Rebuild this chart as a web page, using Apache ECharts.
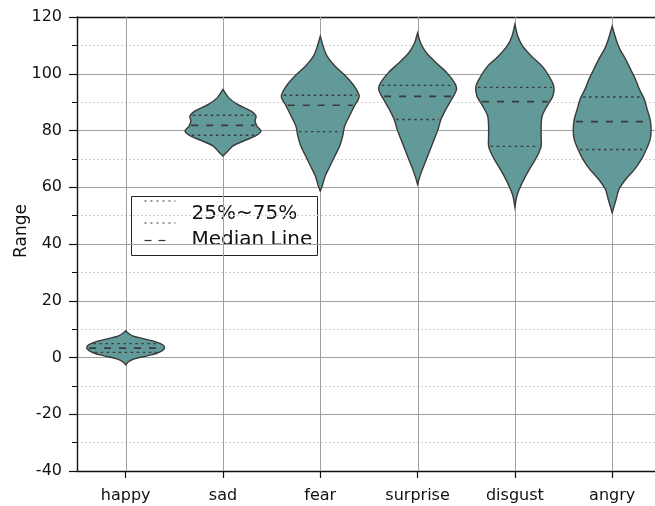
<!DOCTYPE html>
<html>
<head>
    <meta charset="utf-8" />
    <script src="https://cdn.jsdelivr.net/npm/echarts@6/dist/echarts.min.js"></script>
    <style>
        body { margin: 0; background: #fff; }
        #main { width: 655px; height: 506px; }
    </style>
</head>
<body>
    <div id="main"></div>
    <script type="text/javascript">
        // categories and y ticks
        var categories = ['happy', 'sad', 'fear', 'surprise', 'disgust', 'angry'];
        var catIndex = [0, 1, 2, 3, 4, 5];
        var yTicks = [-40, -20, 0, 20, 40, 60, 80, 100, 120];

        // violin outlines: [value, half width in category units]
        var happyShape = [[-2.6, 0], [-1.5, .03], [-0.5, .09], [0.5, .21], [1.5, .32], [2.5, .38], [3.5, .40], [4.5, .38], [5.5, .31], [6.5, .20], [7.5, .08], [8.5, .03], [9.4, 0]];
        var sadShape = [[71, 0], [72.7, .05], [74.5, .10], [76.3, .21], [78, .33], [79.8, .39], [81.5, .35], [83.3, .33], [85.1, .34], [86.8, .29], [89.2, .15], [91.5, .06], [94.5, 0]];
        var fearShape = [[58.7, 0], [60.4, .02], [63.9, .05], [67.5, .10], [71, .15], [74.5, .20], [78, .23], [81.5, .25], [85.1, .30], [88.6, .35], [92.1, .40], [95.6, .35], [99.2, .26], [102.7, .15], [106.2, .07], [109.7, .03], [113.2, 0]];
        var surpriseShape = [[61, 0], [63.4, .02], [66.3, .05], [69.8, .09], [73.3, .13], [76.8, .17], [80.4, .21], [83.9, .24], [87.4, .29], [91, .35], [94.5, .40], [96.8, .38], [100.4, .30], [103.9, .19], [107.4, .09], [110.9, .03], [114.4, 0]];
        var disgustShape = [[53, 0], [56.9, .02], [60.4, .06], [63.9, .11], [67.5, .17], [71, .23], [74.5, .27], [78, .27], [81.5, .27], [85.1, .28], [88.6, .33], [92.1, .39], [95.6, .40], [99.2, .35], [102.7, .28], [106.2, .17], [109.7, .08], [113.2, .03], [117.4, 0]];
        var angryShape = [[51, 0], [55.7, .04], [59.3, .07], [62.8, .14], [66.3, .23], [69.8, .30], [73.3, .35], [76.8, .39], [80.4, .40], [83.9, .39], [87.4, .36], [91, .33], [94.5, .28], [98, .24], [101.5, .19], [105, .14], [108.6, .08], [112.1, .04], [116.8, 0]];

        // quartiles and medians
        var q1 = [1.8, 78.3, 79.6, 83.9, 74.4, 73.3];
        var medians = [3.3, 81.8, 88.9, 92.0, 90.2, 83.1];
        var q3 = [4.9, 85.4, 92.4, 95.9, 95.2, 91.8];

        var shapes = [happyShape, sadShape, fearShape, surpriseShape, disgustShape, angryShape];

        var fillColor = '#629a9a';
        var edgeColor = '#3a3a3a';
        var font = 'DejaVu Sans';

        // half width at a value, linear between the read points
        function widthAt(shape, v) {
            for (var i = 0; i < shape.length - 1; i++) {
                if (v >= shape[i][0] && v <= shape[i + 1][0]) {
                    var t = (v - shape[i][0]) / (shape[i + 1][0] - shape[i][0]);
                    return shape[i][1] + t * (shape[i + 1][1] - shape[i][1]);
                }
            }
            return 0;
        }

        function renderViolin(params, api) {
            var idx = api.value(0);
            var shape = shapes[idx];
            var left = [], right = [];
            for (var i = 0; i < shape.length; i++) {
                left.push(api.coord([idx - shape[i][1], shape[i][0]]));
                right.unshift(api.coord([idx + shape[i][1], shape[i][0]]));
            }
            var children = [{
                type: 'polygon',
                shape: { points: left.concat(right), smooth: 0.3 },
                style: { fill: fillColor, stroke: edgeColor, lineWidth: 1.4 }
            }];
            var lines = [[q1[idx], [2.5, 3.5], 1.4], [q3[idx], [2.5, 3.5], 1.4], [medians[idx], [7, 8], 1.7]];
            for (var j = 0; j < lines.length; j++) {
                var w = widthAt(shape, lines[j][0]) - 0.02;
                var a = api.coord([idx - w, lines[j][0]]);
                var b = api.coord([idx + w, lines[j][0]]);
                children.push({
                    type: 'line',
                    shape: { x1: a[0], y1: a[1], x2: b[0], y2: b[1] },
                    style: { stroke: edgeColor, lineWidth: lines[j][2], lineDash: lines[j][1] }
                });
            }
            return { type: 'group', children: children };
        }

        // vertical grid lines at each category
        function renderVGrid(params, api) {
            var idx = api.value(0);
            var a = api.coord([idx, 120]);
            var b = api.coord([idx, -40]);
            var x = Math.round(a[0]) + 0.5;
            return {
                type: 'line',
                shape: { x1: x, y1: a[1], x2: x, y2: b[1] },
                style: { stroke: '#a0a0a0', lineWidth: 1 }
            };
        }

        var myChart = echarts.init(document.getElementById('main'));
        var idxData = catIndex.map(function (i) { return [i]; });

        var option = {
            animation: false,
            grid: { left: 77, top: 17, right: 0, height: 454, outerBoundsMode: 'none', containLabel: false },
            xAxis: [{
                type: 'value',
                min: -0.5, max: 5.44,
                axisLine: { onZero: false, lineStyle: { color: '#111', width: 1.4 } },
                axisTick: { length: 7, customValues: catIndex, lineStyle: { color: '#111', width: 1.2 } },
                axisLabel: {
                    color: '#111', fontFamily: font, fontSize: 16, margin: 17,
                    customValues: catIndex,
                    formatter: function (v) { return categories[Math.round(v)]; }
                },
                splitLine: { show: false }
            }, {
                type: 'value',
                position: 'top',
                min: -0.5, max: 5.44,
                axisLine: { onZero: false, lineStyle: { color: '#111', width: 1.4 } },
                axisTick: { show: false },
                axisLabel: { show: false },
                splitLine: { show: false }
            }],
            yAxis: {
                type: 'value',
                min: -40, max: 120, interval: 20,
                axisLine: { show: true, onZero: false, lineStyle: { color: '#111', width: 1.4 } },
                axisTick: { show: true, length: 8, lineStyle: { color: '#111', width: 1.2 } },
                minorTick: { show: true, splitNumber: 2, length: 5, lineStyle: { color: '#111', width: 1 } },
                axisLabel: {
                    color: '#111', fontFamily: font, fontSize: 16, margin: 15,
                    customValues: yTicks
                },
                splitLine: { show: true, lineStyle: { color: '#a0a0a0', width: 1 } },
                minorSplitLine: { show: true, lineStyle: { color: '#d0d0d0', width: 1, type: [2, 2] } }
            },
            series: [
                {
                    type: 'custom',
                    renderItem: renderVGrid,
                    data: idxData,
                    z: 1,
                    silent: true
                },
                {
                    type: 'custom',
                    renderItem: renderViolin,
                    data: idxData,
                    z: 3
                }
            ],
            graphic: [{
                // y axis title, sits a bit above the middle like the original
                type: 'text',
                x: 22, y: 231,
                rotation: Math.PI / 2,
                style: { text: 'Range', fill: '#111', font: '17px "DejaVu Sans"', textAlign: 'center', textVerticalAlign: 'middle' }
            }, {
                type: 'group',
                left: 131, top: 196,
                z: 10,
                children: [
                    { type: 'rect', shape: { x: 0, y: 0, width: 186, height: 59 }, style: { fill: '#fff', stroke: '#222', lineWidth: 1 } },
                    { type: 'line', shape: { x1: 13, y1: 4.5, x2: 44, y2: 4.5 }, style: { stroke: '#333', lineWidth: 1.2, lineDash: [2, 4] } },
                    { type: 'line', shape: { x1: 13, y1: 26.5, x2: 44, y2: 26.5 }, style: { stroke: '#333', lineWidth: 1.2, lineDash: [2, 4] } },
                    { type: 'line', shape: { x1: 13, y1: 44, x2: 36, y2: 44 }, style: { stroke: '#333', lineWidth: 1.2, lineDash: [7, 7] } },
                    { type: 'text', x: 60, y: 17, style: { text: '25%~75%', fill: '#111', font: '20px "DejaVu Sans"', textVerticalAlign: 'middle' } },
                    { type: 'text', x: 60, y: 43, style: { text: 'Median Line', fill: '#111', font: '20px "DejaVu Sans"', textVerticalAlign: 'middle' } }
                ]
            }]
        };
        myChart.setOption(option);
    </script>
</body>
</html>
